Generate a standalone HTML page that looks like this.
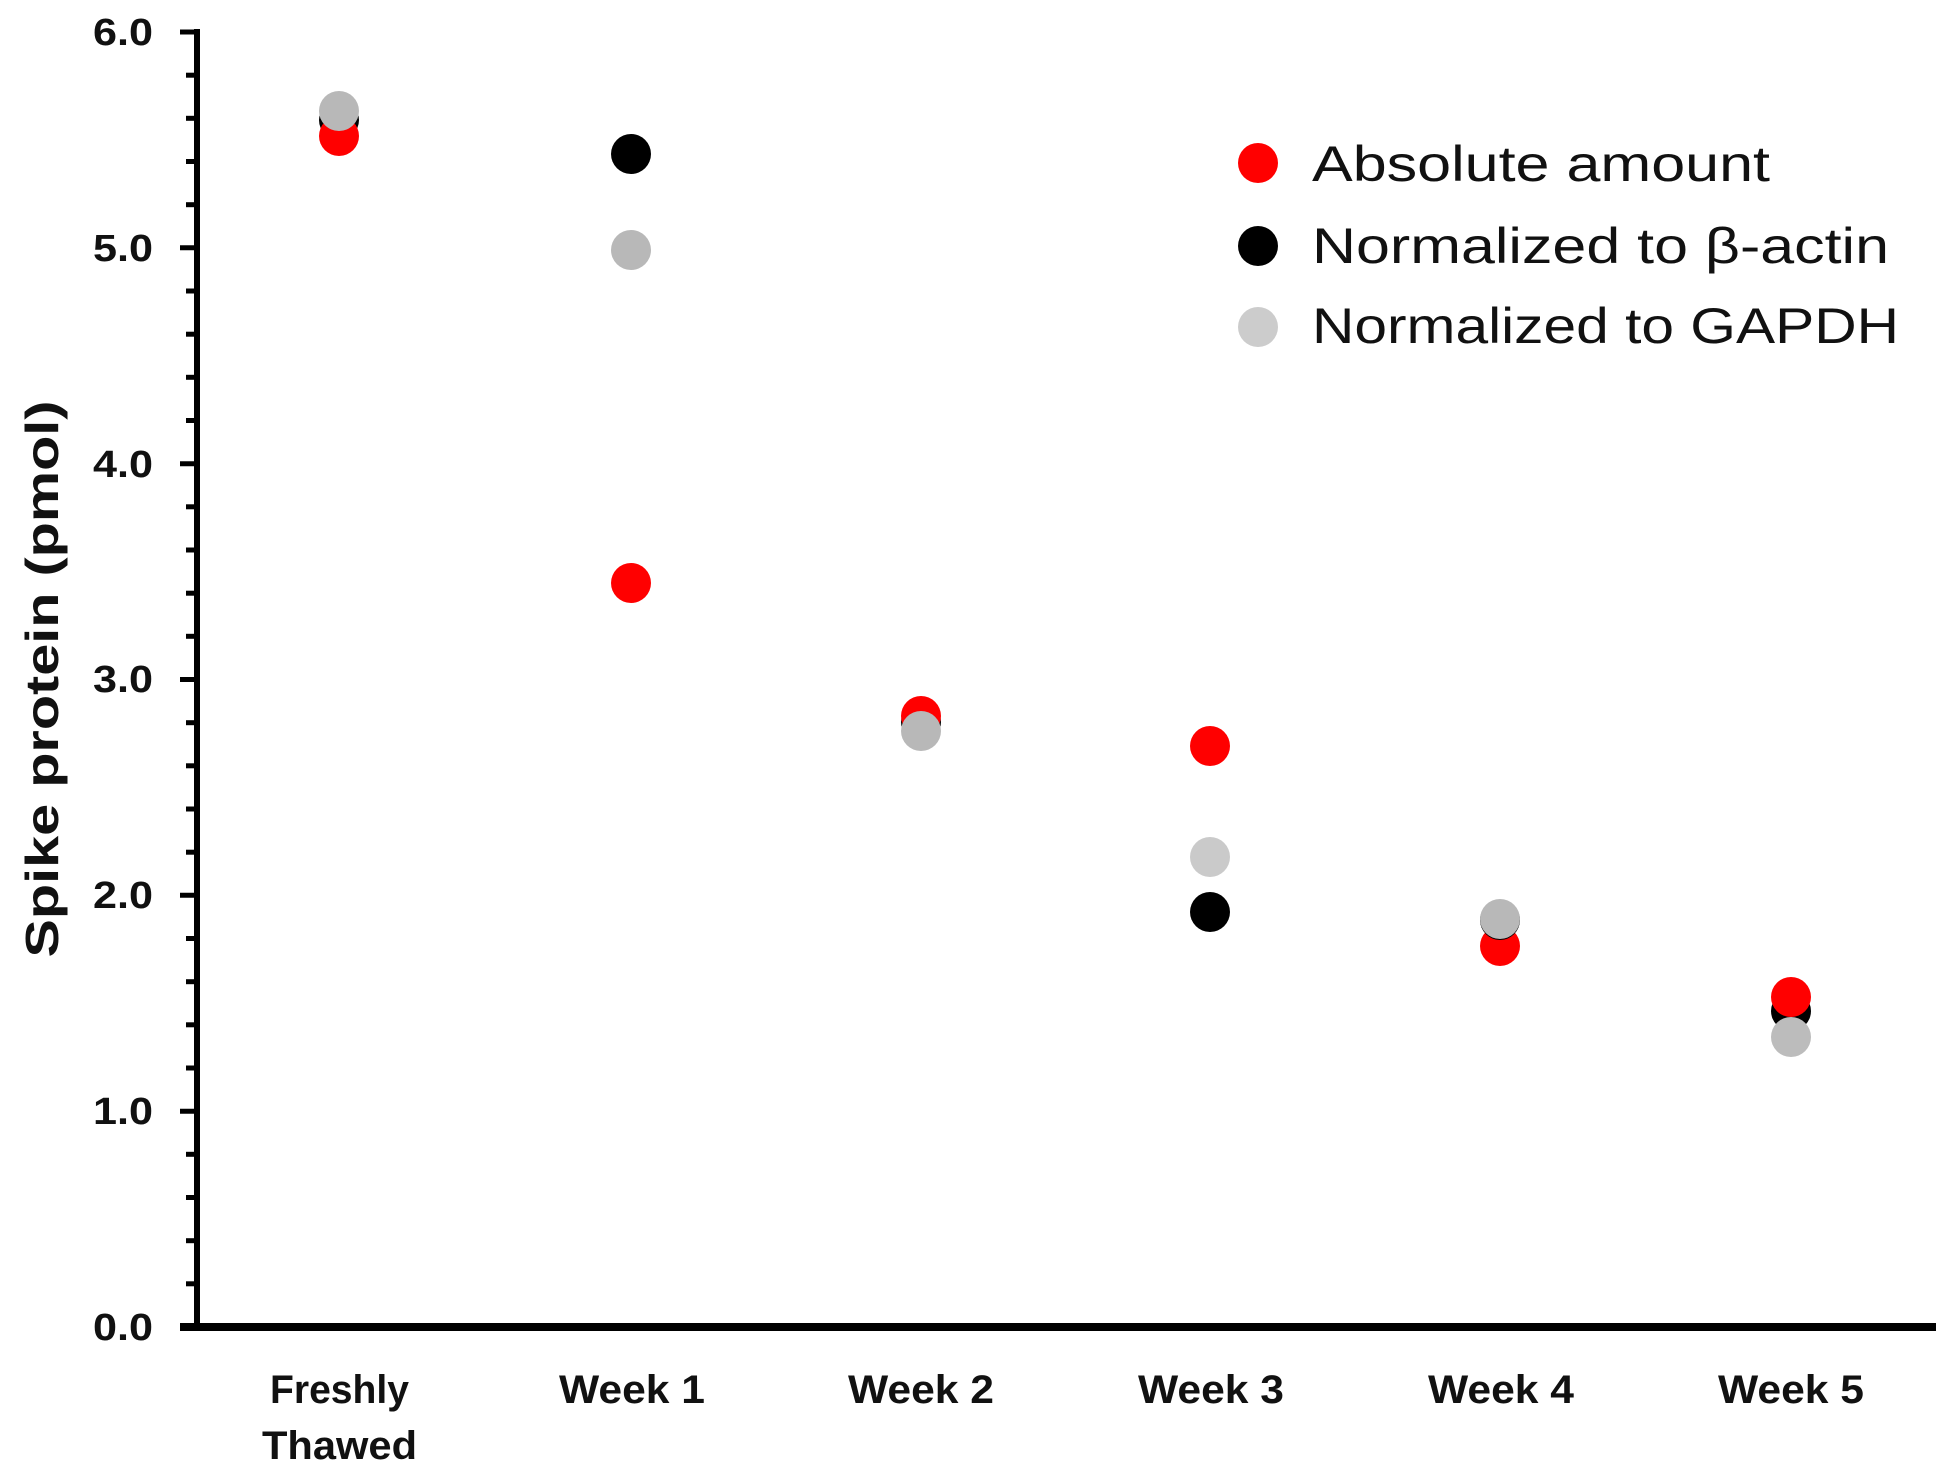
<!DOCTYPE html>
<html><head><meta charset="utf-8"><style>html,body{margin:0;padding:0;background:#fff}svg{display:block}</style></head>
<body>
<svg width="1950" height="1477" viewBox="0 0 1950 1477" xmlns="http://www.w3.org/2000/svg" font-family="Liberation Sans, sans-serif">
<rect width="1950" height="1477" fill="#fff"/>
<g stroke="#000" stroke-width="6">
<line x1="197" y1="29" x2="197" y2="1330"/>
<line x1="180" y1="1327" x2="1936" y2="1327" stroke-width="8"/>
</g>
<g stroke="#000" stroke-width="5">
<line x1="180" y1="32" x2="197" y2="32"/>
<line x1="186" y1="75.2" x2="197" y2="75.2"/>
<line x1="186" y1="118.3" x2="197" y2="118.3"/>
<line x1="186" y1="161.5" x2="197" y2="161.5"/>
<line x1="186" y1="204.7" x2="197" y2="204.7"/>
<line x1="180" y1="247.8" x2="197" y2="247.8"/>
<line x1="186" y1="291" x2="197" y2="291"/>
<line x1="186" y1="334.2" x2="197" y2="334.2"/>
<line x1="186" y1="377.3" x2="197" y2="377.3"/>
<line x1="186" y1="420.5" x2="197" y2="420.5"/>
<line x1="180" y1="463.7" x2="197" y2="463.7"/>
<line x1="186" y1="506.8" x2="197" y2="506.8"/>
<line x1="186" y1="550" x2="197" y2="550"/>
<line x1="186" y1="593.2" x2="197" y2="593.2"/>
<line x1="186" y1="636.3" x2="197" y2="636.3"/>
<line x1="180" y1="679.5" x2="197" y2="679.5"/>
<line x1="186" y1="722.7" x2="197" y2="722.7"/>
<line x1="186" y1="765.8" x2="197" y2="765.8"/>
<line x1="186" y1="809" x2="197" y2="809"/>
<line x1="186" y1="852.2" x2="197" y2="852.2"/>
<line x1="180" y1="895.3" x2="197" y2="895.3"/>
<line x1="186" y1="938.5" x2="197" y2="938.5"/>
<line x1="186" y1="981.7" x2="197" y2="981.7"/>
<line x1="186" y1="1024.8" x2="197" y2="1024.8"/>
<line x1="186" y1="1068" x2="197" y2="1068"/>
<line x1="180" y1="1111.2" x2="197" y2="1111.2"/>
<line x1="186" y1="1154.3" x2="197" y2="1154.3"/>
<line x1="186" y1="1197.5" x2="197" y2="1197.5"/>
<line x1="186" y1="1240.7" x2="197" y2="1240.7"/>
<line x1="186" y1="1283.8" x2="197" y2="1283.8"/>
</g>
<g font-weight="bold" font-size="38" fill="#111">
<text x="93" y="45" textLength="60" lengthAdjust="spacingAndGlyphs">6.0</text>
<text x="93" y="261" textLength="60" lengthAdjust="spacingAndGlyphs">5.0</text>
<text x="93" y="477" textLength="60" lengthAdjust="spacingAndGlyphs">4.0</text>
<text x="93" y="692" textLength="60" lengthAdjust="spacingAndGlyphs">3.0</text>
<text x="93" y="908" textLength="60" lengthAdjust="spacingAndGlyphs">2.0</text>
<text x="93" y="1124" textLength="60" lengthAdjust="spacingAndGlyphs">1.0</text>
<text x="93" y="1340" textLength="60" lengthAdjust="spacingAndGlyphs">0.0</text>
</g>
<g font-weight="bold" font-size="40" fill="#111">
<text x="270" y="1403" textLength="139" lengthAdjust="spacingAndGlyphs">Freshly</text>
<text x="262" y="1459" textLength="155" lengthAdjust="spacingAndGlyphs">Thawed</text>
<text x="559" y="1403" textLength="146" lengthAdjust="spacingAndGlyphs">Week 1</text>
<text x="848" y="1403" textLength="146" lengthAdjust="spacingAndGlyphs">Week 2</text>
<text x="1138" y="1403" textLength="146" lengthAdjust="spacingAndGlyphs">Week 3</text>
<text x="1428" y="1403" textLength="146" lengthAdjust="spacingAndGlyphs">Week 4</text>
<text x="1718" y="1403" textLength="146" lengthAdjust="spacingAndGlyphs">Week 5</text>
</g>
<text transform="translate(58,679) rotate(-90)" text-anchor="middle" font-weight="bold" font-size="46" textLength="557" lengthAdjust="spacingAndGlyphs" fill="#111">Spike protein (pmol)</text>
<g>
<circle cx="339" cy="120" r="20" fill="#000"/>
<circle cx="339" cy="136" r="20" fill="#f00"/>
<circle cx="339" cy="111" r="20" fill="#b8b8b8"/>
<circle cx="631" cy="154" r="20" fill="#000"/>
<circle cx="631" cy="250" r="20" fill="#b8b8b8"/>
<circle cx="631" cy="583" r="20" fill="#f00"/>
<circle cx="921" cy="722" r="20" fill="#000"/>
<circle cx="921" cy="716" r="20" fill="#f00"/>
<circle cx="921" cy="731" r="20" fill="#b8b8b8"/>
<circle cx="1210" cy="746" r="20" fill="#f00"/>
<circle cx="1210" cy="857" r="20" fill="#cacaca"/>
<circle cx="1210" cy="912" r="20" fill="#000"/>
<circle cx="1500" cy="946" r="20" fill="#f00"/>
<circle cx="1500" cy="920" r="20" fill="#000"/>
<circle cx="1500" cy="919" r="20" fill="#b8b8b8"/>
<circle cx="1791" cy="1011" r="20" fill="#000"/>
<circle cx="1791" cy="997" r="20" fill="#f00"/>
<circle cx="1791" cy="1037" r="20" fill="#bcbcbc"/>
</g>
<g font-size="50" fill="#111">
<circle cx="1258" cy="163" r="20" fill="#f00"/>
<circle cx="1258" cy="246" r="20" fill="#000"/>
<circle cx="1258" cy="327" r="20" fill="#cccccc"/>
<text x="1312" y="181" textLength="458" lengthAdjust="spacingAndGlyphs">Absolute amount</text>
<text x="1312" y="263" textLength="577" lengthAdjust="spacingAndGlyphs">Normalized to β-actin</text>
<text x="1312" y="343" textLength="587" lengthAdjust="spacingAndGlyphs">Normalized to GAPDH</text>
</g>
</svg>
</body></html>
